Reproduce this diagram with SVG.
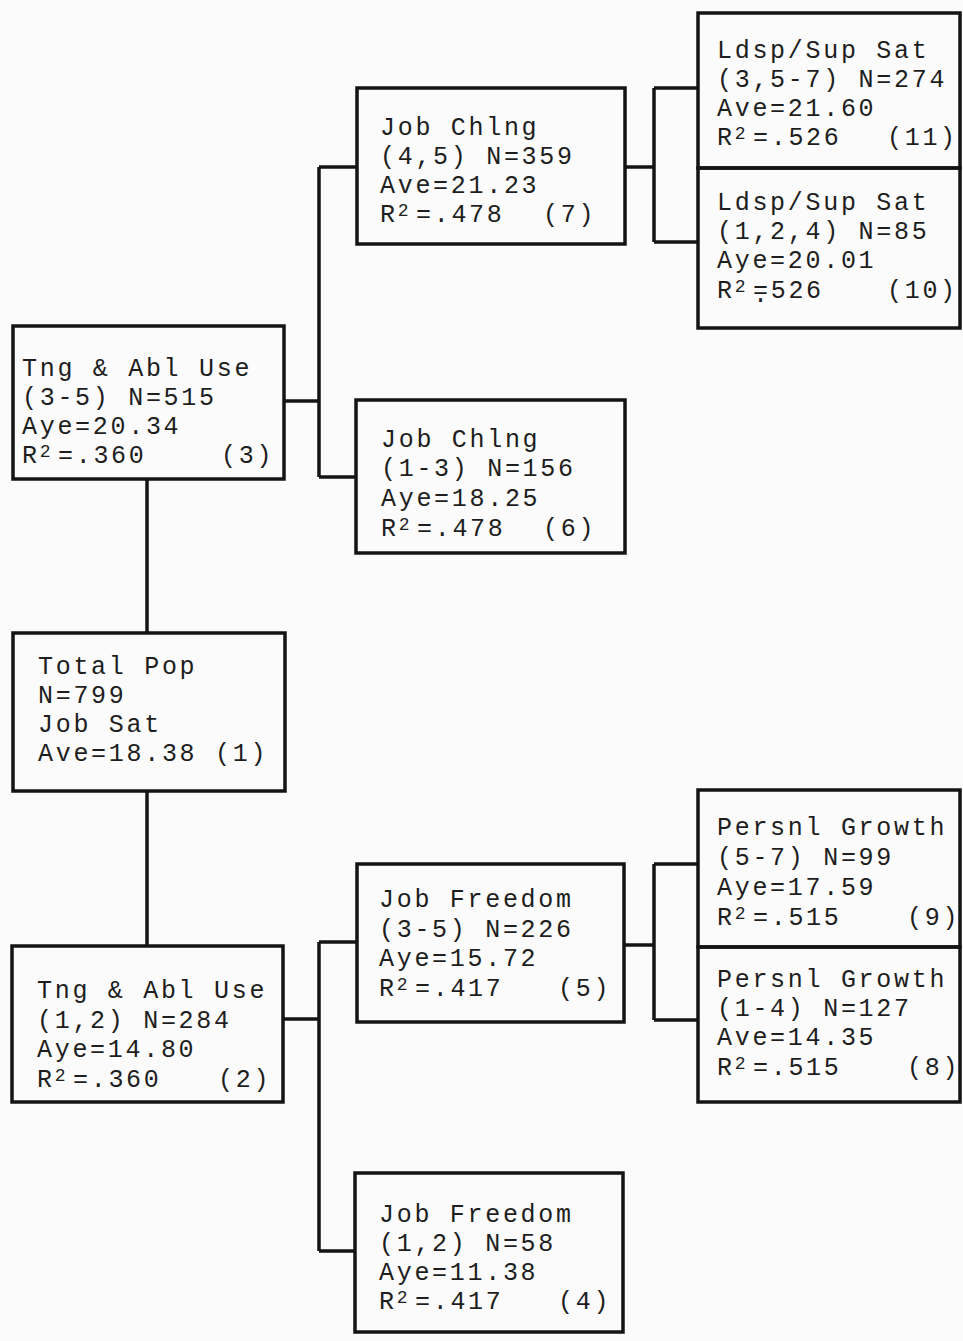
<svg xmlns="http://www.w3.org/2000/svg" width="963" height="1341" viewBox="0 0 963 1341">
<style>
.box{fill:none;stroke:#141414;stroke-width:3.5;stroke-linejoin:miter}
.con{fill:none;stroke:#141414;stroke-width:3.5}
.t{font-family:"Liberation Mono","Courier New",monospace;font-size:25px;letter-spacing:2.7px;fill:#1e1e1e}
.sup{font-size:18px;letter-spacing:2.7px}
</style>
<rect x="0" y="0" width="963" height="1341" fill="#fbfbfb"/>
<g id="connectors">
<path class="con" d="M147,479V633M147,791V946"/>
<path class="con" d="M284,401H319M319,167V477M319,167H357M319,477H356"/>
<path class="con" d="M625,167H654M654,88V242M654,88H698M654,242H698"/>
<path class="con" d="M283,1019H319M319,942V1251M319,942H357M319,1251H355"/>
<path class="con" d="M624,945H654M654,864V1020M654,864H698M654,1020H698"/>
</g>
<g id="n1">
<rect class="box" x="13" y="633" width="272" height="158"/>
<text class="t"><tspan x="38" y="674">Total Pop</tspan><tspan x="38" y="703">N=799</tspan><tspan x="38" y="732">Job Sat</tspan><tspan x="38" y="761">Ave=18.38 (1)</tspan></text>
</g>
<g id="n3">
<rect class="box" x="13" y="326" width="271" height="153"/>
<text class="t"><tspan x="22" y="376">Tng &amp; Abl Use</tspan><tspan x="22" y="405">(3-5) N=515</tspan><tspan x="22" y="434">Aye=20.34</tspan><tspan x="22" y="463">R</tspan><tspan class="sup" dy="-6">2</tspan><tspan dy="6" dx="4.8">=.360</tspan><tspan x="221">(3)</tspan></text>
</g>
<g id="n2">
<rect class="box" x="12" y="946" width="271" height="156"/>
<text class="t"><tspan x="37" y="998">Tng &amp; Abl Use</tspan><tspan x="37" y="1028">(1,2) N=284</tspan><tspan x="37" y="1057">Aye=14.80</tspan><tspan x="37" y="1087">R</tspan><tspan class="sup" dy="-6">2</tspan><tspan dy="6" dx="4.8">=.360</tspan><tspan x="218">(2)</tspan></text>
</g>
<g id="n7">
<rect class="box" x="357" y="88" width="268" height="156"/>
<text class="t"><tspan x="380" y="135">Job Chlng</tspan><tspan x="380" y="164">(4,5) N=359</tspan><tspan x="380" y="193">Ave=21.23</tspan><tspan x="380" y="222">R</tspan><tspan class="sup" dy="-6">2</tspan><tspan dy="6" dx="4.8">=.478</tspan><tspan x="543">(7)</tspan></text>
</g>
<g id="n6">
<rect class="box" x="356" y="400" width="269" height="153"/>
<text class="t"><tspan x="381" y="447">Job Chlng</tspan><tspan x="381" y="476">(1-3) N=156</tspan><tspan x="381" y="506">Aye=18.25</tspan><tspan x="381" y="536">R</tspan><tspan class="sup" dy="-6">2</tspan><tspan dy="6" dx="4.8">=.478</tspan><tspan x="543">(6)</tspan></text>
</g>
<g id="n5">
<rect class="box" x="357" y="864" width="267" height="158"/>
<text class="t"><tspan x="379" y="907">Job Freedom</tspan><tspan x="379" y="937">(3-5) N=226</tspan><tspan x="379" y="966">Aye=15.72</tspan><tspan x="379" y="996">R</tspan><tspan class="sup" dy="-6">2</tspan><tspan dy="6" dx="4.8">=.417</tspan><tspan x="558">(5)</tspan></text>
</g>
<g id="n4">
<rect class="box" x="355" y="1173" width="268" height="159"/>
<text class="t"><tspan x="379" y="1222">Job Freedom</tspan><tspan x="379" y="1251">(1,2) N=58</tspan><tspan x="379" y="1280">Aye=11.38</tspan><tspan x="379" y="1309">R</tspan><tspan class="sup" dy="-6">2</tspan><tspan dy="6" dx="4.8">=.417</tspan><tspan x="558">(4)</tspan></text>
</g>
<g id="n11">
<rect class="box" x="698" y="13" width="262" height="155"/>
<text class="t"><tspan x="717" y="58">Ldsp/Sup Sat</tspan><tspan x="717" y="87">(3,5-7) N=274</tspan><tspan x="717" y="116">Ave=21.60</tspan><tspan x="717" y="145">R</tspan><tspan class="sup" dy="-6">2</tspan><tspan dy="6" dx="4.8">=.526</tspan><tspan x="887">(11)</tspan></text>
</g>
<g id="n10">
<rect class="box" x="698" y="168" width="262" height="160"/>
<text class="t"><tspan x="717" y="210">Ldsp/Sup Sat</tspan><tspan x="717" y="239">(1,2,4) N=85</tspan><tspan x="717" y="268">Aye=20.01</tspan><tspan x="717" y="298">R</tspan><tspan class="sup" dy="-6">2</tspan><tspan dy="6" dx="4.8">=</tspan><tspan dx="-17.7" dy="4">.</tspan><tspan dy="-4">526</tspan><tspan x="887">(10)</tspan></text>
</g>
<g id="n9">
<rect class="box" x="698" y="790" width="262" height="157"/>
<text class="t"><tspan x="717" y="835">Persnl Growth</tspan><tspan x="717" y="865">(5-7) N=99</tspan><tspan x="717" y="895">Aye=17.59</tspan><tspan x="717" y="925">R</tspan><tspan class="sup" dy="-6">2</tspan><tspan dy="6" dx="4.8">=.515</tspan><tspan x="907">(9)</tspan></text>
</g>
<g id="n8">
<rect class="box" x="698" y="947" width="262" height="155"/>
<text class="t"><tspan x="717" y="987">Persnl Growth</tspan><tspan x="717" y="1016">(1-4) N=127</tspan><tspan x="717" y="1045">Ave=14.35</tspan><tspan x="717" y="1075">R</tspan><tspan class="sup" dy="-6">2</tspan><tspan dy="6" dx="4.8">=.515</tspan><tspan x="907">(8)</tspan></text>
</g>
</svg>
